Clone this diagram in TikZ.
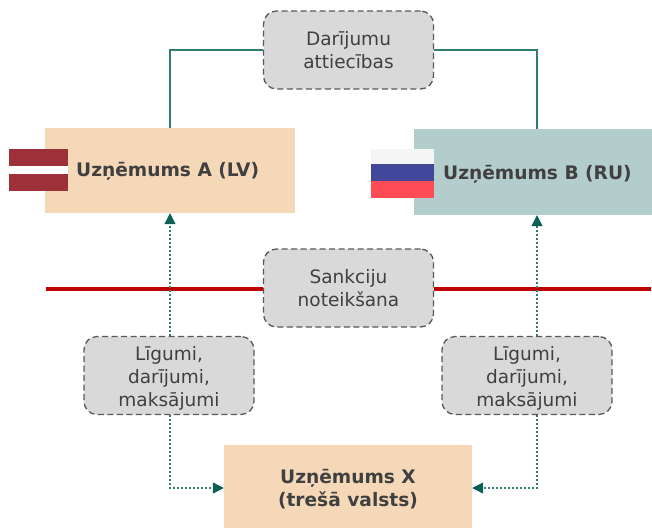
\documentclass[tikz,border=0pt]{standalone}
\usepackage{fontspec}
\setmainfont{DejaVu Sans}
\usetikzlibrary{arrows.meta}
\definecolor{sand}{HTML}{F4D8B8}
\definecolor{teal1}{HTML}{B3CCCC}
\definecolor{boxg}{HTML}{D9D9D9}
\definecolor{dashg}{HTML}{595959}
\definecolor{txt}{HTML}{404040}
\definecolor{conn}{HTML}{0B5F55}
\definecolor{connl}{HTML}{2F7D73}
\definecolor{redl}{HTML}{C00000}
\definecolor{lvred}{HTML}{9E3039}
\definecolor{ruwhite}{HTML}{F5F5F5}
\definecolor{rublue}{HTML}{41479B}
\definecolor{rured}{HTML}{FF4B55}
\tikzset{
  company/.style={rectangle,inner sep=0pt,align=center,text=txt,font=\bfseries\fontsize{18.6}{23}\selectfont},
  note/.style={rectangle,rounded corners=13pt,draw=dashg,fill=boxg,line width=1.3pt,dash pattern=on 6pt off 3.5pt,
    minimum width=170pt,minimum height=78pt,inner sep=0pt,align=center,text=txt,font=\fontsize{18.5}{23}\selectfont},
  solidconn/.style={draw=connl,line width=1.5pt},
  dotconn/.style={draw=connl,line width=1.2pt,dash pattern=on 2pt off 2pt,-{Triangle[length=11pt,width=11pt,color=conn]}},
  redline/.style={draw=redl,line width=4pt}
}
\begin{document}
\begin{tikzpicture}[x=1pt,y=-1pt]
\useasboundingbox (0,0) rectangle (652,528);
% companies
\node[company,fill=sand,minimum width=250pt,minimum height=85pt] (A) at (170,170.5) {};
\node[company,fill=teal1,minimum width=238pt,minimum height=86pt] (B) at (533,172) {};
\node[company,fill=sand,minimum width=248pt,minimum height=83pt] (X) at (348,486.5) {\rule{0pt}{20pt}Uzņēmums X\\(trešā valsts)};
% notes
\node[note] (D) at (348.5,50) {Darījumu\\attiecības};
\node[note] (S) at (348.5,288) {Sankciju\\noteikšana};
\node[note] (L1) at (169,375.5) {\rule{0pt}{20pt}Līgumi,\\darījumi,\\maksājumi};
\node[note] (L2) at (527,375.5) {\rule{0pt}{20pt}Līgumi,\\darījumi,\\maksājumi};
% anchors for line ends
\coordinate (redW) at (46,289);
\coordinate (redE) at (651,289);
% connectors
\draw[solidconn] (D.west) -| (A.north);
\draw[solidconn] (D.east) -| ([xshift=4pt]B.north);
\draw[redline] (redW) -- (S.west |- redW);
\draw[redline] (S.east |- redE) -- (redE);
\draw[dotconn] ([xshift=1pt]L1.north) -- (A.south);
\draw[dotconn] ([xshift=10pt]L2.north) -- ([xshift=4pt]B.south);
\draw[dotconn] ([xshift=1pt]L1.south) |- ([yshift=-1.5pt]X.west);
\draw[dotconn] ([xshift=10pt]L2.south) |- ([yshift=-1.5pt]X.east);
% flags
\fill[white] (9,149) rectangle (68,191);
\fill[lvred] (9,149) rectangle (68,166);
\fill[lvred] (9,174) rectangle (68,191);
\fill[ruwhite] (371,149) rectangle (434,164);
\fill[rublue] (371,164) rectangle (434,181);
\fill[rured] (371,181) rectangle (434,198);
% company labels
\node[company,anchor=west] (Atxt) at (76,171.5) {Uzņēmums A (LV)};
\node[company,anchor=west] (Btxt) at (443,174.5) {Uzņēmums B (RU)};
\end{tikzpicture}
\end{document}
